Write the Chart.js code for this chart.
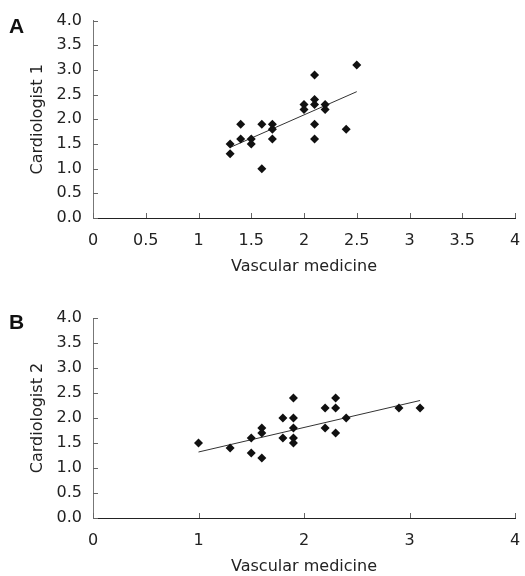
<!DOCTYPE html>
<html>
<head>
<meta charset="utf-8">
<script src="https://cdn.jsdelivr.net/npm/chart.js@4.4.0/dist/chart.umd.min.js"></script>
<style>
  body { margin: 0; background: #fff; width: 525px; height: 576px; overflow: hidden; }
  .panel { position: absolute; left: 0; width: 525px; height: 288px; }
  .tag { position: absolute; left: 9px; font: bold 21px "Liberation Sans", Arial, sans-serif; color: #111; }
</style>
</head>
<body>
<div class="panel" style="top:0"><canvas id="chartA" width="525" height="288"></canvas></div>
<div class="panel" style="top:288px"><canvas id="chartB" width="525" height="288"></canvas></div>
<div class="tag" style="top:14px">A</div>
<div class="tag" style="top:310px">B</div>
<script>
// Panel A: vascular medicine vs cardiologist 1
const vascA = [1.3, 1.3, 1.4, 1.4, 1.5, 1.5, 1.6, 1.6, 1.7, 1.7, 1.7, 2.0, 2.0, 2.1, 2.1, 2.1, 2.1, 2.1, 2.2, 2.2, 2.4, 2.5];
const cardio1 = [1.5, 1.3, 1.9, 1.6, 1.6, 1.5, 1.9, 1.0, 1.9, 1.8, 1.6, 2.3, 2.2, 2.9, 2.4, 2.3, 1.9, 1.6, 2.3, 2.2, 1.8, 3.1];
const trendAx = [1.3, 2.5];
const trendAy = [1.43, 2.56];

// Panel B: vascular medicine vs cardiologist 2
const vascB = [1.0, 1.3, 1.5, 1.5, 1.6, 1.6, 1.6, 1.8, 1.8, 1.9, 1.9, 1.9, 1.9, 1.9, 2.2, 2.2, 2.3, 2.3, 2.3, 2.4, 2.9, 3.1];
const cardio2 = [1.5, 1.4, 1.6, 1.3, 1.8, 1.7, 1.2, 2.0, 1.6, 2.4, 2.0, 1.8, 1.6, 1.5, 2.2, 1.8, 2.4, 2.2, 1.7, 2.0, 2.2, 2.2];
const trendBx = [1.0, 3.1];
const trendBy = [1.32, 2.35];

const FONT = "DejaVu Sans";
const TXT = '#222';

// tick marks drawn inward from the axis lines
const innerTicks = {
  id: 'innerTicks',
  afterDraw(chart) {
    const c = chart.ctx, xs = chart.scales.x, ys = chart.scales.y;
    c.save();
    c.lineWidth = 1;
    c.strokeStyle = '#666';
    xs.ticks.forEach(t => {
      const px = Math.round(xs.getPixelForValue(t.value)) + 0.5;
      c.beginPath(); c.moveTo(px, ys.bottom); c.lineTo(px, ys.bottom - 5); c.stroke();
    });
    ys.ticks.forEach(t => {
      const py = Math.round(ys.getPixelForValue(t.value)) + 0.5;
      c.beginPath(); c.moveTo(xs.left, py); c.lineTo(xs.left + 5, py); c.stroke();
    });
    c.restore();
  }
};

function pairs(xv, yv) {
  return xv.map((x, i) => ({x: x, y: yv[i]}));
}

// opts: xStep, yTitle, top padding, x-axis height, title bottom padding
function makeChart(id, xv, yv, tx, ty, o) {
  return new Chart(document.getElementById(id), {
    type: 'scatter',
    data: {
      datasets: [{
        data: pairs(xv, yv),
        pointStyle: 'rectRot',
        radius: 4.5,
        backgroundColor: '#111',
        borderColor: '#111',
        borderWidth: 0
      }, {
        type: 'line',
        data: pairs(tx, ty),
        borderColor: '#333',
        borderWidth: 1,
        pointRadius: 0,
        fill: false
      }]
    },
    options: {
      responsive: false,
      animation: false,
      layout: { padding: { top: o.top, right: 10, left: 0, bottom: 0 } },
      plugins: { legend: { display: false }, tooltip: { enabled: false } },
      scales: {
        x: {
          type: 'linear', min: 0, max: 4,
          afterFit: s => { s.height = o.xh; s.paddingLeft = 0; s.paddingRight = 0; },
          border: { color: '#222', width: 1 },
          grid: { display: false, drawTicks: false },
          ticks: { stepSize: o.xStep, padding: 13, color: TXT, font: { family: FONT, size: 16 },
                   callback: v => String(v) },
          title: { display: true, text: 'Vascular medicine', color: TXT, padding: { top: 0, bottom: o.tpb }, font: { family: FONT, size: 16 } }
        },
        y: {
          type: 'linear', min: 0, max: 4,
          afterFit: s => { s.width = 93; },
          border: { color: '#777', width: 1 },
          grid: { display: false, drawTicks: false },
          ticks: { stepSize: 0.5, padding: 11, color: TXT, font: { family: FONT, size: 16 },
                   callback: v => v.toFixed(1) },
          title: { display: true, text: o.yTitle, color: TXT, padding: { top: 28, bottom: 0 }, font: { family: FONT, size: 16 } }
        }
      }
    },
    plugins: [innerTicks]
  });
}

makeChart('chartA', vascA, cardio1, trendAx, trendAy, { xStep: 0.5, yTitle: 'Cardiologist 1', top: 17, xh: 70, tpb: 12 });
makeChart('chartB', vascB, cardio2, trendBx, trendBy, { xStep: 1, yTitle: 'Cardiologist 2', top: 30, xh: 58, tpb: 0 });
</script>
</body>
</html>
